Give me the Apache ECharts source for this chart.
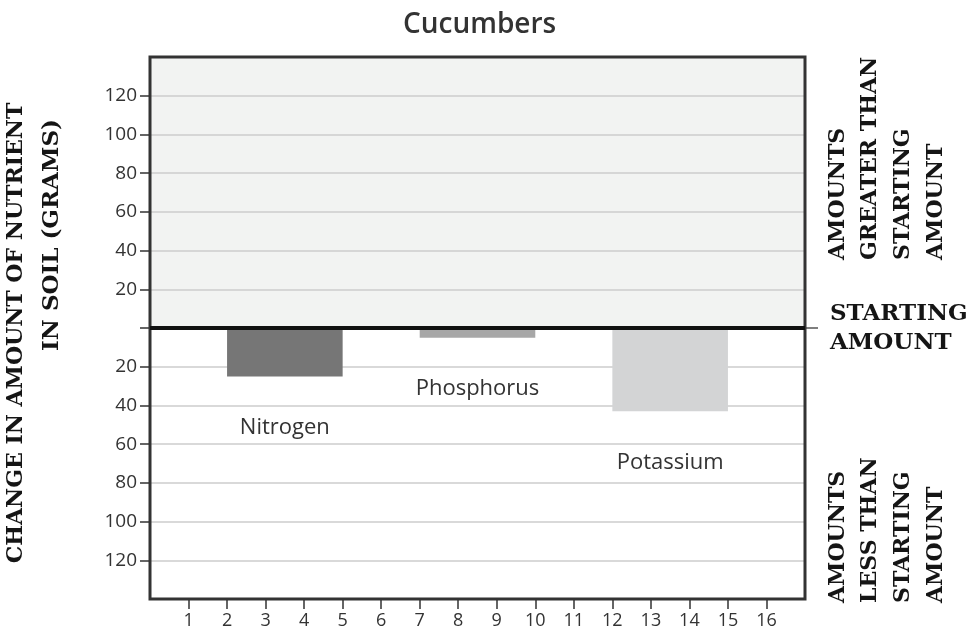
<!DOCTYPE html>
<html>
<head>
<meta charset="utf-8">
<script src="https://cdn.jsdelivr.net/npm/echarts@6/dist/echarts.min.js"></script>
<style>
html, body { margin: 0; padding: 0; background: #fff; }
#main { width: 973px; height: 638px; }
</style>
</head>
<body>
<div id="main"></div>
<script>
// data
var nutrients = ['Nitrogen', 'Phosphorus', 'Potassium'];
var barStart = [2, 7, 12];      // left edge on the 1..16 scale
var barEnd = [5, 10, 15];       // right edge
var change = [-25, -5, -43];    // grams, negative = less than start
var barColors = ['#767676', '#a7a7a7', '#d3d4d5'];
var xTicks = [1, 2, 3, 4, 5, 6, 7, 8, 9, 10, 11, 12, 13, 14, 15, 16];
var yTicks = [-120, -100, -80, -60, -40, -20, 0, 20, 40, 60, 80, 100, 120];
var yLimit = 140;

var bars = [];
for (var i = 0; i < nutrients.length; i++) {
	bars.push([barStart[i], barEnd[i], change[i], i]);
}

function slabText(x, y, text, rotated, align, size) {
	return {
		type: 'text', x: x, y: y, rotation: rotated ? Math.PI / 2 : 0,
		style: {
			text: text, fontFamily: '"DejaVu Serif", "Liberation Serif", serif', fontWeight: 'bold', fontSize: size,
			fill: '#151515', textAlign: align, textVerticalAlign: 'middle'
		}
	};
}

var myChart = echarts.init(document.getElementById('main'));
var option = {
	animation: false,
	title: {
		text: 'Cucumbers', left: 398, top: 6,
		textStyle: { fontFamily: 'Open Sans', fontSize: 28, fontWeight: 600, color: '#333' }
	},
	grid: {
		left: 150, right: 168, top: 57, bottom: 39, show: true, z: 3,
		backgroundColor: 'transparent', borderColor: '#333', borderWidth: 3
	},
	xAxis: {
		type: 'value', min: 0, max: 17, interval: 1,
		axisLine: { show: false, onZero: false },
		splitLine: { show: false },
		axisTick: { length: 10, customValues: xTicks, lineStyle: { color: '#333', width: 1.5 } },
		axisLabel: {
			margin: 13, color: '#333', fontFamily: 'Open Sans', fontSize: 18,
			formatter: function (v) { return xTicks.indexOf(v) >= 0 ? String(v) : ''; }
		}
	},
	yAxis: [{
		type: 'value', min: -yLimit, max: yLimit, interval: 20, z: 1.5,
		axisLine: { show: false },
		splitLine: { lineStyle: { color: '#cdcdcd', width: 1.5 } },
		axisTick: { length: 10, customValues: yTicks, lineStyle: { color: '#333', width: 1.5 } },
		axisLabel: {
			margin: 13, color: '#333', fontFamily: 'Open Sans', fontSize: 19,
			formatter: function (v) { return (v === 0 || Math.abs(v) === yLimit) ? '' : String(Math.abs(v)); }
		}
	}, {
		type: 'value', min: -yLimit, max: yLimit, position: 'right',
		axisLine: { show: false }, splitLine: { show: false }, axisLabel: { show: false },
		axisTick: { show: true, customValues: [0], length: 13, lineStyle: { color: '#555', width: 1.5 } }
	}],
	series: [{
		// light background above the starting amount
		type: 'custom', z: 1, silent: true,
		data: [[0]],
		renderItem: function (params, api) {
			var a = api.coord([0, 0]);
			var b = api.coord([17, yLimit]);
			return { type: 'rect', shape: { x: a[0], y: b[1], width: b[0] - a[0], height: a[1] - b[1] }, style: { fill: '#f2f3f2' } };
		}
	}, {
		type: 'custom', z: 2,
		data: bars,
		renderItem: function (params, api) {
			var p0 = api.coord([api.value(0), 0]);
			var p1 = api.coord([api.value(1), api.value(2)]);
			var k = api.value(3);
			return {
				type: 'rect',
				shape: { x: p0[0], y: p0[1], width: p1[0] - p0[0], height: p1[1] - p0[1] },
				style: { fill: barColors[k] },
				textContent: {
					style: { text: nutrients[k], fontFamily: 'Open Sans', fontSize: 22, fill: '#333' }
				},
				textConfig: { position: 'bottom', distance: 40 }
			};
		},
		markLine: {
			silent: true, symbol: 'none', label: { show: false },
			lineStyle: { color: '#111', width: 4, type: 'solid' },
			data: [{ yAxis: 0 }]
		}
	}],
	graphic: [
		slabText(16, 333, 'CHANGE IN AMOUNT OF NUTRIENT', true, 'center', 22),
		slabText(52, 235, 'IN SOIL (GRAMS)', true, 'center', 23),
		slabText(838, 260, 'AMOUNTS', true, 'left', 22),
		slabText(870, 260, 'GREATER THAN', true, 'left', 22),
		slabText(903, 260, 'STARTING', true, 'left', 22),
		slabText(936, 260, 'AMOUNT', true, 'left', 22),
		slabText(838, 603, 'AMOUNTS', true, 'left', 22),
		slabText(870, 603, 'LESS THAN', true, 'left', 22),
		slabText(903, 603, 'STARTING', true, 'left', 22),
		slabText(936, 603, 'AMOUNT', true, 'left', 22),
		slabText(830, 314, 'STARTING', false, 'left', 23),
		slabText(830, 343, 'AMOUNT', false, 'left', 23)
	]
};
myChart.setOption(option);
</script>
</body>
</html>
